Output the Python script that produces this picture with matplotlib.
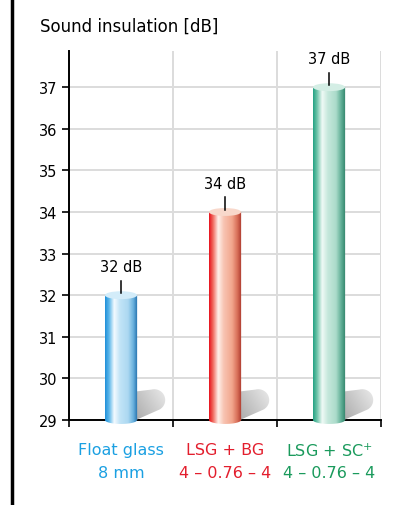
import numpy as np
import matplotlib
matplotlib.use('Agg')
import matplotlib.pyplot as plt
from matplotlib.colors import to_rgb
from matplotlib.patches import Ellipse, PathPatch
from matplotlib.path import Path
from matplotlib.lines import Line2D
from matplotlib.transforms import Bbox, TransformedBbox

# data
names_top = ['Float glass', 'LSG + BG', 'LSG + SC$^{+}$']
names_bottom = ['8 mm', '4 – 0.76 – 4', '4 – 0.76 – 4']
values = [32, 34, 37]
value_labels = ['32 dB', '34 dB', '37 dB']
label_colors = ['#1ba0e2', '#e31e2d', '#1a9a5c']
yticks = [29, 30, 31, 32, 33, 34, 35, 36, 37]

# gradient stops across each cylinder (left -> right)
stops = [0.0, 0.12, 0.28, 0.45, 0.7, 0.86, 1.0]
bar_grads = [
    ['#1f8fd8', '#5ab6ea', '#f4fbff', '#c2e4f7', '#acd8f1', '#6ab2de', '#1d6aa8'],
    ['#e8101c', '#f06a5e', '#fff0ea', '#f8c4b2', '#f2a68d', '#d9705a', '#a8342a'],
    ['#23a283', '#6cc3a8', '#f0faf6', '#c6e8dc', '#abdbca', '#5fae95', '#2e8068'],
]
top_colors = ['#d3ecf9', '#f8d8cb', '#d4eee5']

plt.rcParams['font.family'] = 'DejaVu Sans'

fig = plt.figure(figsize=(4.03, 5.06), dpi=100)
ax = fig.add_axes([69 / 403, 1 - 421 / 506, 312 / 403, 369 / 506])

ymin, ymax = 29, 37.87
ax.set_xlim(0, 3)
ax.set_ylim(ymin, ymax)

ax.set_yticks(yticks)
ax.set_yticklabels([str(t) for t in yticks], fontsize=10.5)
ax.set_xticks([0, 1, 2, 3])
ax.set_xticklabels([])
ax.tick_params(axis='both', direction='out', length=5, width=1.2, color='black')
ax.grid(True, color='#dcdcdc', linewidth=1.4)
ax.set_axisbelow(True)
for s in ['top', 'right']:
    ax.spines[s].set_visible(False)
for s in ['left', 'bottom']:
    ax.spines[s].set_linewidth(1.4)
    ax.spines[s].set_zorder(2)

w = 0.31
eh = 0.19  # ellipse height of cylinder caps (data units)
big_clip = TransformedBbox(Bbox([[-0.1, -0.2], [1.1, 1.1]]), ax.transAxes)


def gradient_image(colors, n=200):
    xs = np.linspace(0, 1, n)
    rgb = np.array([to_rgb(c) for c in colors])
    img = np.stack([np.interp(xs, stops, rgb[:, k]) for k in range(3)], axis=-1)
    return img[np.newaxis, :, :]


# diagonal grey gradient for the shadows (darker lower-left)
uu, vv = np.meshgrid(np.linspace(0, 1, 80), np.linspace(0, 1, 80))
g = np.clip(0.66 + 0.16 * uu + 0.10 * (1 - vv), 0, 1)
shadow_img = np.stack([g, g, g], axis=-1)

for i, (v, grad) in enumerate(zip(values, bar_grads)):
    x = i + 0.5
    xl, xr = x - w / 2, x + w / 2

    # shadow: rounded lobe on the right, slanted lower edge back to the bar foot
    cx, cy, rx, ry = xr + 0.165, ymin + 0.48, 0.105, 0.26
    t = np.linspace(np.deg2rad(105), -np.deg2rad(62), 50)
    verts = [(xr - 0.03, cy + ry - 0.06)]
    verts += list(zip(cx + rx * np.cos(t), cy + ry * np.sin(t)))
    verts += [(xr - 0.03, ymin - 0.02), (xr - 0.03, cy + ry - 0.06)]
    shadow = PathPatch(Path(verts, closed=True), facecolor='none', edgecolor='none')
    ax.add_patch(shadow)
    sim = ax.imshow(shadow_img, extent=[xr - 0.03, cx + rx, ymin - 0.02, cy + ry],
                    origin='upper', aspect='auto', zorder=2.5, interpolation='bilinear')
    sim.set_clip_path(shadow)

    # cylinder body with rounded bottom
    tb = np.linspace(np.pi, 2 * np.pi, 40)
    body = [(xl, v)] + [(x + w / 2 * np.cos(a), ymin + eh / 2 * np.sin(a)) for a in tb] + [(xr, v), (xl, v)]
    bpatch = PathPatch(Path(body, closed=True), facecolor='none', edgecolor='none')
    ax.add_patch(bpatch)
    im = ax.imshow(gradient_image(grad), extent=[xl, xr, ymin - eh, v],
                   aspect='auto', zorder=3, interpolation='bilinear')
    im.set_clip_box(big_clip)
    im.set_clip_path(bpatch)

    top = Ellipse((x, v), w, eh, facecolor=top_colors[i], edgecolor='none', zorder=4)
    ax.add_patch(top)

    # value label with small pointer line
    ax.plot([x, x], [v + 0.05, v + 0.35], color='black', linewidth=1.1, zorder=5)
    ax.text(x, v + 0.68, value_labels[i], ha='center', va='center', fontsize=10.5, zorder=5)

    # category labels
    ax.text(x, ymin - 0.72, names_top[i], ha='center', va='center', fontsize=11.5,
            color=label_colors[i], clip_on=False)
    ax.text(x, ymin - 1.27, names_bottom[i], ha='center', va='center', fontsize=11.5,
            color=label_colors[i], clip_on=False)

fig.text(40 / 403, 1 - 27 / 506, 'Sound insulation [dB]', ha='left', va='center', fontsize=12)
fig.add_artist(Line2D([12 / 403, 12 / 403], [0, 1], color='black', linewidth=2.5,
                      transform=fig.transFigure))

fig.savefig('out.png', dpi=100)
